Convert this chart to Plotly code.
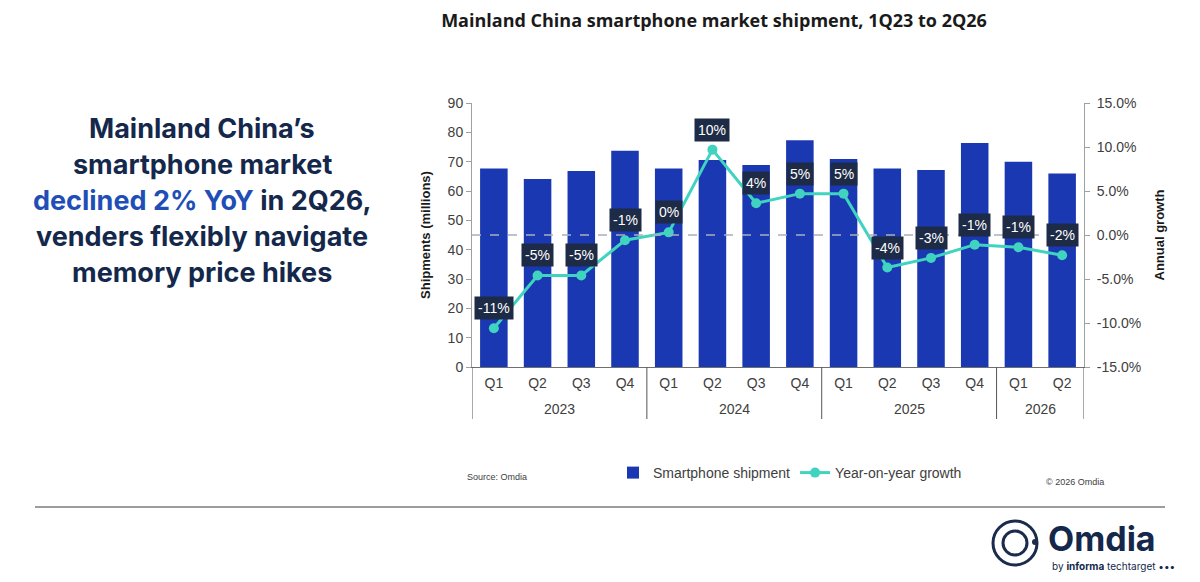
import plotly.graph_objects as go

years = ["2023"] * 4 + ["2024"] * 4 + ["2025"] * 4 + ["2026"] * 2
quarters = ["Q1", "Q2", "Q3", "Q4", "Q1", "Q2", "Q3", "Q4", "Q1", "Q2", "Q3", "Q4", "Q1", "Q2"]
shipments = [67.7, 64.1, 66.8, 73.7, 67.7, 70.6, 68.9, 77.3, 70.9, 67.7, 67.2, 76.4, 70.0, 66.0]
growth = [-10.6, -4.6, -4.6, -0.6, 0.3, 9.7, 3.6, 4.7, 4.7, -3.7, -2.6, -1.1, -1.4, -2.3]
growth_ticks = [-15, -10, -5, 0, 5, 10, 15]

BAR = "#1b38b3"
TEAL = "#3fd3c0"
NAVY = "#14284b"
LABEL_BG = "#1e2b46"
FONT = "Liberation Sans, Arial, sans-serif"

cats = [f"{q} {y}" for q, y in zip(quarters, years)]

# plot area in pixels
L, R, T, B = 472, 1084, 103, 367


def px(x):
    return (x - L) / (R - L)


def py(y):
    return (B - y) / (B - T)


fig = go.Figure()
fig.add_trace(go.Bar(
    x=cats, y=shipments, name="Smartphone shipment",
    marker=dict(color=BAR, line=dict(width=0)), width=0.63,
))
fig.add_trace(go.Scatter(
    x=cats, y=growth, name="Year-on-year growth", yaxis="y2",
    mode="lines+markers", line=dict(color=TEAL, width=3),
    marker=dict(color=TEAL, size=10),
))

annotations = []
for i, g in enumerate(growth):
    annotations.append(dict(
        x=cats[i], y=g, xref="x", yref="y2", yshift=20, showarrow=False,
        text=f"{round(g):.0f}%", bgcolor=LABEL_BG, borderpad=3,
        font=dict(family=FONT, size=14, color="#ffffff"),
    ))

# year group labels and dividers
groups = []
for i, y in enumerate(years):
    if not groups or groups[-1][0] != y:
        groups.append([y, i, i])
    else:
        groups[-1][2] = i
shapes = []
for y, i0, i1 in groups:
    annotations.append(dict(
        x=(i0 + i1) / 2, y=py(409), xref="x", yref="paper", text=y, showarrow=False,
        yanchor="middle", font=dict(family=FONT, size=14, color="#404040"),
    ))
    shapes.append(dict(type="line", xref="x", yref="paper", x0=i0 - 0.5, x1=i0 - 0.5,
                       y0=0, y1=py(419), line=dict(color="#555555", width=1)))
shapes.append(dict(type="line", xref="x", yref="paper", x0=len(cats) - 0.5, x1=len(cats) - 0.5,
                   y0=0, y1=py(419), line=dict(color="#555555", width=1)))

# Left headline
lines = [
    "Mainland China’s",
    "smartphone market",
    "<span style='color:#1f4fb6'>declined 2% YoY</span> in 2Q26,",
    "venders flexibly navigate",
    "memory price hikes",
]
for k, t in enumerate(lines):
    annotations.append(dict(
        x=px(202), y=py(128 + 36 * k), xref="paper", yref="paper", text=f"<b>{t}</b>",
        showarrow=False,
        font=dict(family="Inter, sans-serif", size=27, color=NAVY),
        xanchor="center", yanchor="middle",
    ))

annotations.append(dict(x=px(465), y=py(477), xref="paper", yref="paper",
                        text="Source: Omdia", showarrow=False, xanchor="left", yanchor="middle",
                        font=dict(size=9, color="#404040")))
annotations.append(dict(x=px(1106), y=py(482), xref="paper", yref="paper",
                        text="© 2026 Omdia", showarrow=False, xanchor="right", yanchor="middle",
                        font=dict(size=9, color="#404040")))

# zero reference line
shapes.append(dict(type="line", xref="x domain", yref="y2", x0=0, x1=1, y0=0, y1=0,
                   line=dict(color="#a8b0bc", width=1.5, dash="dash"), layer="above"))
# horizontal rule
shapes.append(dict(type="line", xref="paper", yref="paper", x0=px(35), x1=px(1165),
                   y0=py(507), y1=py(507), line=dict(color="#3a3a3a", width=1)))
# logo
shapes.append(dict(type="circle", xref="paper", yref="paper", x0=px(993), x1=px(1037),
                   y0=py(521), y1=py(565), line=dict(color="#1a2b4c", width=3)))
shapes.append(dict(type="circle", xref="paper", yref="paper", x0=px(1003), x1=px(1027),
                   y0=py(531), y1=py(555), line=dict(color="#1a2b4c", width=3)))
shapes.append(dict(type="circle", xref="paper", yref="paper", x0=px(1032), x1=px(1038),
                   y0=py(539), y1=py(545), fillcolor="#1a2b4c", line=dict(width=0)))
annotations.append(dict(x=px(1046), y=py(538), xref="paper", yref="paper", text="<b>Omdia</b>",
                        showarrow=False, xanchor="left", yanchor="middle",
                        font=dict(family="Inter, sans-serif", size=34, color="#14284b")))
annotations.append(dict(x=px(1050), y=py(566), xref="paper", yref="paper",
                        text="by <b>informa</b> techtarget •••",
                        showarrow=False, xanchor="left", yanchor="middle",
                        font=dict(family="Inter, sans-serif", size=10, color="#14284b")))

fig.update_layout(
    width=1200, height=582,
    margin=dict(l=L, r=1200 - R, t=T, b=582 - B),
    paper_bgcolor="white", plot_bgcolor="white",
    font=dict(family=FONT, size=14, color="#404040"),
    showlegend=True,
    legend=dict(orientation="h", x=px(790), y=py(473), xanchor="center", yanchor="middle",
                font=dict(size=14, color="#404040"), itemwidth=30),
    xaxis=dict(type="category", range=[-0.5, len(cats) - 0.5], tickvals=cats, ticktext=quarters,
               showline=True, linecolor="#6f6f6f", linewidth=1, ticks="", ticklabelstandoff=3,
               tickfont=dict(size=14, color="#404040"), showgrid=False),
    yaxis=dict(range=[0, 90], dtick=10, showline=True, linecolor="#a0a0a0", ticks="outside",
               ticklen=5, tickcolor="#a0a0a0", showgrid=False, zeroline=False,
               tickfont=dict(size=14, color="#404040"),
               title=dict(text="<b>Shipments (millions)</b>", font=dict(size=13, color="#1a1a1a"),
                          standoff=14)),
    yaxis2=dict(range=[-15, 15], overlaying="y", side="right", tickvals=growth_ticks,
                ticktext=[f"{v:.1f}%" for v in growth_ticks], showline=True, linecolor="#a0a0a0",
                ticks="outside", ticklen=5, tickcolor="#a0a0a0", showgrid=False, zeroline=False,
                ticklabelstandoff=4,
                tickfont=dict(size=14, color="#404040"),
                title=dict(text="<b>Annual growth</b>", font=dict(size=13, color="#1a1a1a"),
                           standoff=14)),
    title=dict(text="<b>Mainland China smartphone market shipment, 1Q23 to 2Q26</b>",
               x=714 / 1200, xanchor="center", y=1 - 21 / 582, yanchor="middle",
               font=dict(family="Open Sans, sans-serif", size=18, color="#1a1a1a")),
    annotations=annotations,
    shapes=shapes,
)

fig.write_html("out.html")
